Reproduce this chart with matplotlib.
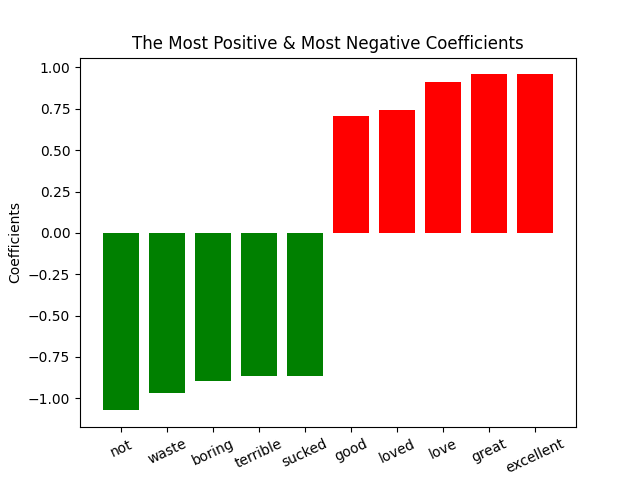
import matplotlib
matplotlib.use('Agg')
import matplotlib.pyplot as plt

words = ['not', 'waste', 'boring', 'terrible', 'sucked',
         'good', 'loved', 'love', 'great', 'excellent']
coefs = [-1.073, -0.97, -0.897, -0.867, -0.867,
         0.709, 0.745, 0.915, 0.958, 0.958]
colors = ['green' if c < 0 else 'red' for c in coefs]

fig, ax = plt.subplots(figsize=(6.4, 4.8), dpi=100)
ax.bar(words, coefs, color=colors)
ax.set_title('The Most Positive & Most Negative Coefficients')
ax.set_ylabel('Coefficients')
plt.setp(ax.get_xticklabels(), rotation=25)
fig.savefig('out.png')
